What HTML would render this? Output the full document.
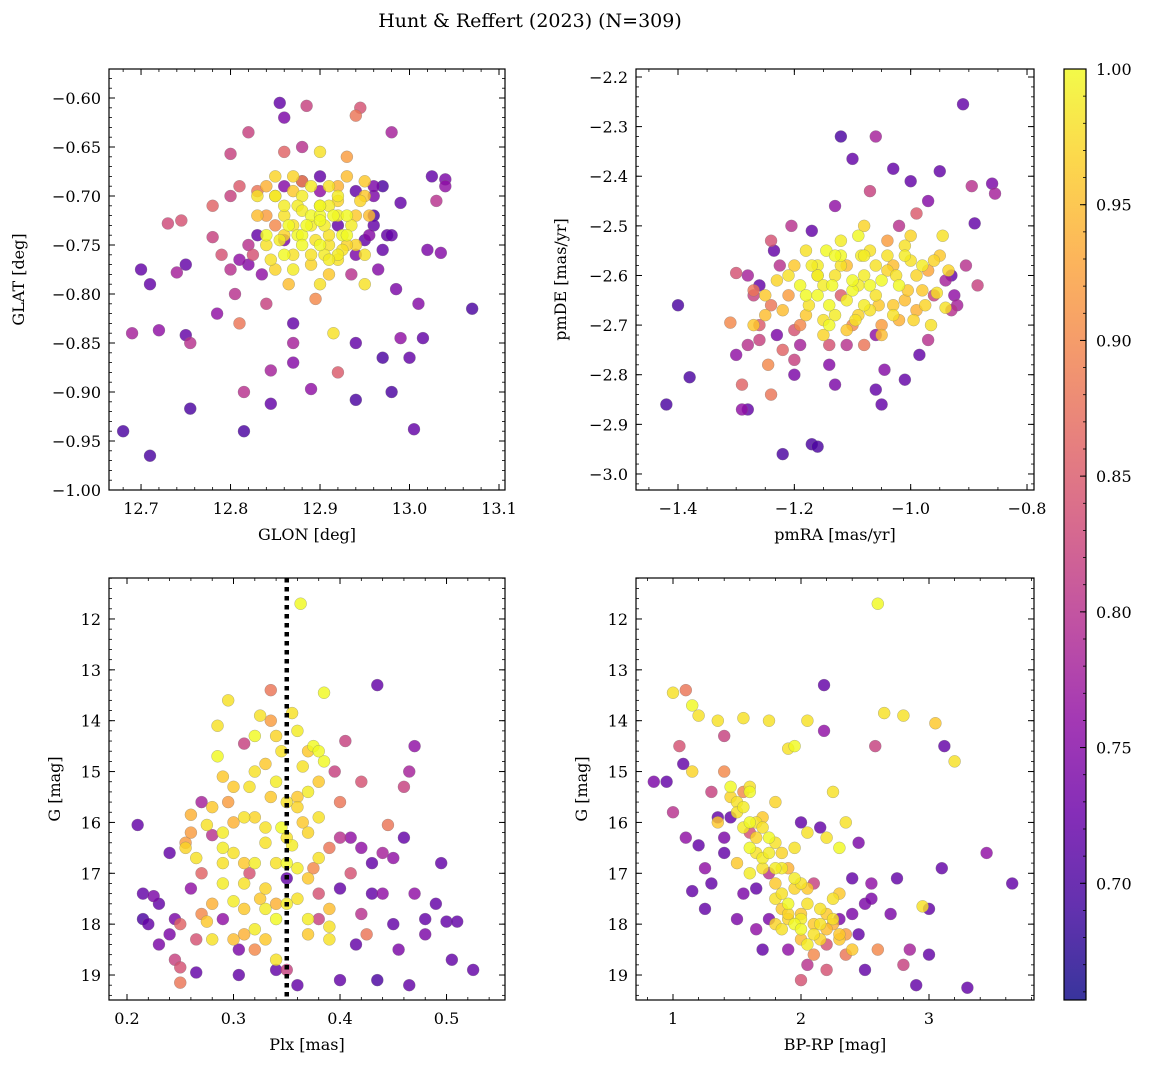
<!DOCTYPE html>
<html><head><meta charset="utf-8"><style>
html,body{margin:0;padding:0;background:#fff;}
svg{display:block;font-family:"DejaVu Serif","Liberation Serif",serif;}
</style></head><body>
<svg id="fig" width="1149" height="1068" viewBox="0 0 1149 1068" xmlns="http://www.w3.org/2000/svg">
<text x="530" y="27" text-anchor="middle" font-size="19">Hunt &amp; Reffert (2023) (N=309)</text>
</svg>
<script>
// ---- data ----
const p1x=[12.68,12.71,12.69,12.72,12.70,12.71,12.73,12.745,12.74,12.75,12.75,12.755,12.755,12.78,12.78,12.785,12.79,12.80,12.80,12.81,12.80,12.805,12.81,12.815,12.815,12.82,12.82,12.825,12.83,12.83,12.835,12.84,12.845,12.845,12.84,12.85,12.85,12.855,12.86,12.86,12.86,12.865,12.87,12.87,12.87,12.875,12.88,12.88,12.885,12.89,12.89,12.895,12.90,12.90,12.90,12.905,12.91,12.91,12.915,12.92,12.92,12.925,12.93,12.93,12.935,12.94,12.94,12.945,12.95,12.95,12.94,12.94,12.955,12.96,12.965,12.97,12.975,12.98,12.98,12.985,12.99,12.99,13.00,13.005,13.01,13.015,13.02,13.025,13.035,13.03,13.04,13.04,13.07,12.92,12.89,12.96,12.83,12.86,12.87,12.9,12.91,12.88,12.92,12.87,12.9];
const p1y=[-0.94,-0.965,-0.84,-0.837,-0.775,-0.79,-0.728,-0.725,-0.778,-0.77,-0.842,-0.85,-0.917,-0.742,-0.71,-0.82,-0.76,-0.657,-0.70,-0.69,-0.775,-0.80,-0.83,-0.90,-0.94,-0.77,-0.635,-0.76,-0.72,-0.70,-0.78,-0.81,-0.878,-0.912,-0.75,-0.73,-0.68,-0.605,-0.62,-0.71,-0.76,-0.79,-0.83,-0.85,-0.87,-0.74,-0.70,-0.65,-0.608,-0.72,-0.77,-0.805,-0.655,-0.68,-0.75,-0.73,-0.78,-0.71,-0.84,-0.76,-0.69,-0.74,-0.66,-0.72,-0.78,-0.618,-0.75,-0.61,-0.79,-0.70,-0.85,-0.908,-0.74,-0.72,-0.775,-0.865,-0.74,-0.90,-0.635,-0.795,-0.707,-0.845,-0.865,-0.938,-0.81,-0.845,-0.755,-0.68,-0.758,-0.705,-0.683,-0.69,-0.815,-0.88,-0.897,-0.73,-0.74,-0.69,-0.76,-0.72,-0.75,-0.74,-0.72,-0.73,-0.79];
const p1c=[.70,.70,.78,.76,.72,.72,.83,.84,.78,.72,.72,.80,.70,.82,.86,.76,.84,.82,.82,.85,.80,.80,.88,.80,.70,.75,.82,.84,.95,.98,.76,.82,.78,.72,.98,.90,.97,.72,.74,.99,1.0,.95,.72,.78,.75,1.0,.99,.80,.82,1.0,.97,.90,.98,.72,1.0,.99,.96,.99,.98,.99,.94,1.0,.92,1.0,.80,.88,.97,.84,.98,.96,.72,.70,.75,.70,.75,.70,.72,.70,.78,.74,.72,.76,.72,.72,.75,.72,.74,.72,.75,.80,.74,.76,.70,.85,.76,.72,.72,.75,.98,1.0,.98,1.0,.99,.98,.98];
const p1xb=[12.84,12.85,12.86,12.87,12.88,12.89,12.90,12.91,12.92,12.93,12.94,12.95,12.845,12.855,12.865,12.875,12.885,12.895,12.905,12.915,12.925,12.935,12.945,12.955,12.85,12.87,12.89,12.91,12.93,12.95,12.86,12.88,12.90,12.92,12.94,12.84,12.86,12.88,12.90,12.92,12.94,12.96,12.87,12.89,12.91,12.93,12.85,12.95,12.97,12.83,12.82,12.81,12.84,12.86,12.98,12.97,12.96,12.88,12.9,12.92];
const p1yb=[-0.74,-0.70,-0.72,-0.68,-0.75,-0.69,-0.71,-0.74,-0.70,-0.75,-0.72,-0.76,-0.765,-0.745,-0.73,-0.71,-0.73,-0.745,-0.76,-0.72,-0.755,-0.73,-0.705,-0.72,-0.70,-0.775,-0.76,-0.765,-0.74,-0.685,-0.745,-0.685,-0.695,-0.73,-0.76,-0.69,-0.74,-0.715,-0.725,-0.765,-0.695,-0.70,-0.695,-0.73,-0.69,-0.68,-0.775,-0.745,-0.69,-0.695,-0.75,-0.765,-0.72,-0.655,-0.74,-0.755,-0.69,-0.685,-0.71,-0.705];
const p1cb=[1,.99,.98,.97,1,.99,1,.98,.99,.97,.96,.98,.98,.99,1,.99,1,.98,.99,1,.98,.99,.97,.95,.96,.99,.98,.99,1,.96,.74,.72,.76,.72,.74,.94,.97,.99,1,.98,.72,.74,.96,.99,.98,.95,.97,.72,.70,.88,.80,.76,.92,.86,.72,.72,.74,.90,.98,.97];

const p2x=[-1.42,-1.40,-1.38,-1.30,-1.31,-1.30,-1.29,-1.29,-1.28,-1.28,-1.27,-1.27,-1.26,-1.26,-1.25,-1.245,-1.24,-1.24,-1.235,-1.225,-1.22,-1.22,-1.21,-1.205,-1.20,-1.20,-1.19,-1.18,-1.175,-1.17,-1.16,-1.16,-1.15,-1.145,-1.14,-1.135,-1.13,-1.12,-1.11,-1.11,-1.10,-1.10,-1.095,-1.09,-1.085,-1.08,-1.08,-1.07,-1.07,-1.06,-1.06,-1.055,-1.05,-1.045,-1.04,-1.03,-1.025,-1.02,-1.01,-1.01,-1.005,-1.00,-0.995,-0.99,-0.98,-0.975,-0.97,-0.965,-0.96,-0.955,-0.95,-0.945,-0.94,-0.935,-0.93,-0.925,-0.92,-0.91,-0.905,-0.895,-0.89,-0.885,-0.86,-0.855,-0.97,-1.05,-1.13,-1.06,-0.985,-1.19,-1.23,-1.2,-1.16,-1.12,-1.14,-1.08,-1.03,-1.12,-1.17,-1.13];
const p2y=[-2.86,-2.66,-2.805,-2.595,-2.695,-2.76,-2.82,-2.87,-2.87,-2.60,-2.70,-2.64,-2.70,-2.62,-2.64,-2.78,-2.84,-2.53,-2.55,-2.58,-2.67,-2.96,-2.60,-2.50,-2.71,-2.80,-2.62,-2.68,-2.66,-2.94,-2.945,-2.58,-2.72,-2.55,-2.78,-2.62,-2.68,-2.32,-2.58,-2.74,-2.365,-2.63,-2.69,-2.52,-2.56,-2.50,-2.74,-2.43,-2.62,-2.32,-2.58,-2.66,-2.72,-2.79,-2.53,-2.385,-2.60,-2.50,-2.56,-2.81,-2.63,-2.41,-2.69,-2.475,-2.58,-2.66,-2.45,-2.70,-2.57,-2.635,-2.39,-2.52,-2.665,-2.59,-2.60,-2.64,-2.66,-2.255,-2.58,-2.42,-2.495,-2.62,-2.415,-2.435,-2.73,-2.86,-2.82,-2.83,-2.76,-2.74,-2.72,-2.58,-2.60,-2.56,-2.70,-2.66,-2.68,-2.64,-2.51,-2.46];
const p2c=[.70,.70,.70,.84,.90,.76,.86,.76,.72,.78,.96,.82,.85,.72,.96,.90,.88,.84,.72,.80,.95,.70,.98,.80,.84,.74,1.0,.96,.98,.70,.70,.99,.97,1.0,.75,1.0,.99,.70,.95,.80,.72,1.0,.98,1.0,.99,.97,.88,.82,1.0,.78,.98,.96,.95,.75,.92,.72,.98,.80,.99,.72,.96,.72,.97,.85,.99,.97,.75,.98,.97,.98,.72,.98,.98,.97,.72,.76,.78,.72,.80,.80,.72,.82,.74,.78,.80,.72,.74,.72,.72,.78,.74,.96,.99,1.0,1.0,.99,.98,.85,.72,.76];
const p2xb=[-1.18,-1.16,-1.14,-1.12,-1.10,-1.08,-1.06,-1.04,-1.02,-1.00,-0.98,-1.17,-1.15,-1.13,-1.11,-1.09,-1.07,-1.05,-1.03,-1.01,-0.99,-1.19,-1.15,-1.11,-1.07,-1.03,-0.99,-0.97,-1.21,-1.25,-1.27,-1.23,-1.26,-1.22,-1.14,-1.10,-1.06,-1.02,-0.96,-0.94,-1.18,-1.12,-1.08,-1.04,-1.00,-1.28,-1.24,-1.20,-0.93,-0.95,-1.16,-1.09,-1.01,-1.13,-1.05];
const p2yb=[-2.64,-2.60,-2.66,-2.58,-2.61,-2.56,-2.64,-2.59,-2.62,-2.57,-2.63,-2.58,-2.69,-2.56,-2.65,-2.68,-2.55,-2.61,-2.66,-2.54,-2.60,-2.70,-2.62,-2.71,-2.67,-2.58,-2.67,-2.59,-2.64,-2.68,-2.63,-2.61,-2.73,-2.75,-2.74,-2.70,-2.72,-2.69,-2.64,-2.61,-2.55,-2.53,-2.60,-2.56,-2.52,-2.74,-2.66,-2.77,-2.67,-2.56,-2.64,-2.62,-2.65,-2.60,-2.70];
const p2cb=[1,.99,1,.98,1,.99,.98,.97,1,.98,.96,.99,.98,1,.99,.97,.98,1,.96,.98,.97,.90,.99,.96,.98,.95,.94,.93,.92,.95,.88,.97,.82,.86,.84,.90,.76,.94,.82,.78,.98,.99,.99,.98,.97,.80,.88,.82,.80,.96,1,.99,.95,.98,.92];

const p3x=[0.21,0.215,0.215,0.225,0.23,0.24,0.245,0.245,0.25,0.25,0.255,0.255,0.26,0.26,0.265,0.265,0.265,0.27,0.27,0.275,0.275,0.28,0.28,0.285,0.285,0.29,0.29,0.29,0.295,0.295,0.3,0.3,0.305,0.305,0.31,0.31,0.315,0.315,0.32,0.32,0.32,0.325,0.325,0.33,0.33,0.335,0.335,0.335,0.34,0.34,0.345,0.345,0.35,0.35,0.35,0.355,0.355,0.36,0.36,0.363,0.365,0.365,0.37,0.37,0.375,0.375,0.38,0.38,0.385,0.385,0.39,0.39,0.395,0.4,0.4,0.405,0.41,0.415,0.42,0.425,0.43,0.435,0.435,0.44,0.445,0.45,0.455,0.46,0.465,0.465,0.47,0.48,0.48,0.49,0.495,0.5,0.505,0.51,0.525,0.45,0.42,0.31,0.33,0.37,0.28,0.34];
const p3y=[16.05,17.4,17.9,17.45,17.6,16.6,17.9,18.7,18.85,19.15,16.4,16.5,15.85,17.3,16.7,18.3,18.95,15.6,17.0,16.05,17.95,18.3,16.25,14.1,14.7,15.1,16.5,17.9,13.6,15.6,16.0,17.55,18.5,19.0,14.45,16.8,15.3,17.0,14.3,15.9,18.1,13.9,17.5,16.4,14.85,13.4,14.0,15.5,18.7,17.6,14.6,16.1,15.6,17.1,18.9,13.85,16.45,19.2,17.5,11.7,14.9,16.0,15.4,18.2,14.5,16.9,15.2,17.4,13.45,14.8,16.5,18.05,15.0,19.1,17.3,14.4,16.3,18.4,17.8,18.2,16.8,13.3,19.1,17.4,16.05,18.0,18.5,15.3,15.0,19.2,14.5,17.9,18.2,17.6,16.8,17.95,18.7,17.95,18.9,16.7,15.2,17.2,18.3,17.9,17.6,16.8];
const p3c=[.72,.72,.70,.74,.72,.72,.74,.82,.84,.88,.92,.97,.94,.76,.98,.84,.72,.78,.86,.98,.96,.98,.80,.98,1.0,.96,.99,.76,.98,.92,.94,.99,.74,.72,.82,.96,.98,.84,1.0,.97,.99,.98,.96,.98,.96,.88,.92,.96,.98,.94,.98,1.0,.98,.72,.82,.98,.99,.72,.98,1.0,.98,.96,.99,.96,1.0,.90,.96,.84,1.0,1.0,.88,.98,.82,.72,.72,.82,.76,.72,.80,.88,.72,.72,.70,.76,.88,.72,.74,.82,.78,.72,.76,.72,.74,.72,.72,.72,.72,.72,.72,.76,.84,.98,.96,.99,.94,.98];
const p3xb=[0.29,0.30,0.31,0.32,0.33,0.34,0.35,0.36,0.37,0.38,0.39,0.30,0.32,0.34,0.36,0.38,0.31,0.33,0.35,0.37,0.39,0.27,0.28,0.29,0.30,0.33,0.35,0.36,0.38,0.40,0.41,0.42,0.43,0.44,0.26,0.25,0.24,0.31,0.34,0.36,0.38,0.32,0.34,0.29,0.37,0.40,0.22,0.23,0.46,0.47];
const p3yb=[17.2,16.6,17.7,16.8,17.3,17.9,16.3,16.9,16.2,16.7,17.7,15.3,15.0,15.2,15.7,15.9,18.2,17.7,16.8,17.1,18.3,17.8,15.7,16.2,18.3,16.1,17.6,15.5,14.6,15.6,17.0,16.5,17.4,16.6,16.2,18.0,18.2,15.9,14.3,14.2,17.9,18.5,18.9,16.8,14.6,16.3,18.0,18.4,16.3,17.4];
const p3cb=[.99,.98,.96,.99,.97,1,.98,.99,.97,.98,.95,.96,.98,.99,.97,.98,.94,.99,1,.96,.98,.90,.96,.99,.95,.98,.99,.96,1,.88,.84,.76,.72,.78,.92,.86,.74,.98,.97,.99,.82,.90,.72,.98,.96,.80,.72,.74,.72,.76];

const p4x=[0.85,0.95,1.0,1.05,1.08,1.1,1.15,1.0,1.1,1.15,1.2,1.15,1.2,1.25,1.3,1.35,1.35,1.4,1.4,1.45,1.5,1.5,1.55,1.55,1.6,1.6,1.65,1.65,1.7,1.7,1.75,1.75,1.8,1.8,1.85,1.85,1.9,1.9,1.95,1.95,2.0,2.0,2.0,2.05,2.05,2.1,2.15,2.15,2.18,2.18,2.2,2.25,2.25,2.3,2.3,2.35,2.4,2.4,2.45,2.5,2.5,2.55,2.58,2.6,2.6,2.65,2.7,2.75,2.8,2.8,2.85,2.9,2.95,3.0,3.0,3.05,3.1,3.12,3.2,3.3,3.45,3.65,1.7,1.8,1.9,2.0,2.1,1.6,1.5,1.45,1.85,2.2,1.95,1.4,1.55,1.65,2.05,2.3];
const p4y=[15.2,15.2,15.8,14.5,14.85,16.3,17.35,13.45,13.4,13.7,13.9,15.0,16.45,17.7,15.4,14.0,16.0,14.3,15.0,15.9,16.8,17.9,13.95,15.4,16.2,15.3,16.6,17.3,15.9,18.5,17.0,14.0,15.6,16.4,18.1,17.7,14.55,16.9,18.0,14.5,19.1,17.8,16.0,14.0,18.4,17.2,18.0,16.1,13.3,14.2,18.9,15.4,17.5,18.3,16.5,16.0,18.5,17.1,16.4,17.6,18.9,17.2,14.5,11.7,18.5,13.85,17.8,17.1,13.9,18.8,18.5,19.2,17.65,17.7,18.6,14.05,16.9,14.5,14.8,19.25,16.6,17.2,16.7,17.5,17.9,18.1,18.2,16.0,15.6,15.3,16.9,17.8,16.5,16.6,17.4,18.1,16.2,17.9];
const p4c=[.74,.72,.80,.84,.72,.76,.72,.98,.88,1.0,.98,.97,.72,.72,.82,.98,.96,.82,.90,.72,.96,.74,.98,.90,.84,.98,.98,.72,.96,.72,.80,.98,.97,.98,.98,.96,.98,.94,1.0,1.0,.84,.96,.72,.98,.99,.82,.98,.72,.72,.76,.84,.98,.98,.96,1.0,.98,.96,.72,.74,.74,.72,.76,.82,1.0,.90,.98,.74,.72,.98,.82,.78,.72,.98,.72,.72,.96,.72,.72,.98,.72,.76,.72,.99,.98,.97,1.0,.98,1.0,.98,1.0,.99,.96,.98,.72,.74,.76,.98,.74];
const p4xb=[1.5,1.55,1.6,1.65,1.7,1.75,1.8,1.85,1.9,1.95,2.0,2.05,2.1,2.15,2.2,2.25,2.3,1.45,1.55,1.65,1.75,1.85,1.95,2.05,2.15,2.25,2.35,1.6,1.7,1.8,1.9,2.0,2.1,2.2,2.3,2.4,1.35,1.4,1.3,1.25,1.75,1.9,2.05,2.45,2.55,2.35,1.6,1.8,2.0,2.2];
const p4yb=[15.8,16.1,16.5,16.3,16.9,16.6,17.2,17.4,17.6,17.3,17.9,17.6,18.0,18.3,18.1,17.9,18.2,15.5,15.7,16.0,16.3,16.6,17.1,17.3,17.7,18.0,18.2,15.4,16.1,16.9,17.8,18.3,18.6,18.4,17.4,17.8,15.9,16.3,17.2,16.9,17.9,18.5,18.8,18.2,17.5,18.6,17.0,18.0,17.2,16.3];
const p4cb=[.98,.99,1,.97,.98,.99,.96,.98,1,.97,.99,.98,.96,.97,.95,.98,.96,.97,.99,.98,1,.97,.99,.96,.98,.94,.92,1,.98,.99,.97,.95,.90,.84,.96,.74,.72,.74,.72,.76,.74,.76,.80,.72,.74,.88,.99,.97,.98,.98];

const t1x=[12.7,12.8,12.9,13.0,13.1], t1xl=["12.7","12.8","12.9","13.0","13.1"];
const t1y=[-0.60,-0.65,-0.70,-0.75,-0.80,-0.85,-0.90,-0.95,-1.00], t1yl=["−0.60","−0.65","−0.70","−0.75","−0.80","−0.85","−0.90","−0.95","−1.00"];
const t2x=[-1.4,-1.2,-1.0,-0.8], t2xl=["−1.4","−1.2","−1.0","−0.8"];
const t2y=[-2.2,-2.3,-2.4,-2.5,-2.6,-2.7,-2.8,-2.9,-3.0], t2yl=["−2.2","−2.3","−2.4","−2.5","−2.6","−2.7","−2.8","−2.9","−3.0"];
const t3x=[0.2,0.3,0.4,0.5], t3xl=["0.2","0.3","0.4","0.5"];
const tGy=[12,13,14,15,16,17,18,19], tGyl=["12","13","14","15","16","17","18","19"];
const t4x=[1,2,3], t4xl=["1","2","3"];
const tCb=[0.70,0.75,0.80,0.85,0.90,0.95,1.00], tCbl=["0.70","0.75","0.80","0.85","0.90","0.95","1.00"];
const plxCut=[0.35];

// ---- rendering ----
const NS="http://www.w3.org/2000/svg";
const svg=document.getElementById('fig');
function mk(tag,attrs,parent){const e=document.createElementNS(NS,tag);for(const k in attrs)e.setAttribute(k,attrs[k]);(parent||svg).appendChild(e);return e;}
const VMIN=0.657,VMAX=1.0;
const stops=["#0d0887","#41049d","#6a00a8","#8f0da4","#b12a90","#cc4778","#e16462","#f2844b","#fca636","#fcce25","#f0f921"];
function hx(h){return [parseInt(h.substr(1,2),16),parseInt(h.substr(3,2),16),parseInt(h.substr(5,2),16)];}
function cmap(v){let t=(v-VMIN)/(VMAX-VMIN);t=Math.max(0,Math.min(1,t));const f=t*10,i=Math.min(9,Math.floor(f)),r=f-i;const a=hx(stops[i]),b=hx(stops[i+1]);return `rgb(${a.map((c,k)=>Math.round(c+(b[k]-c)*r)).join(',')})`;}

function panel(o){
  const g=mk('g',{});
  
  
  const sx=v=>o.x0+(v-o.xmin)/(o.xmax-o.xmin)*(o.x1-o.x0);
  const sy=v=>o.y1-(v-o.ymin)/(o.ymax-o.ymin)*(o.y1-o.y0);
  const pts=mk('g',{},g);
  
  
  const idx=o.xs.map((_,i)=>i).sort((a,b)=>o.cs[a]-o.cs[b]);
  idx.forEach(i=>{
    const c=mk('circle',{cx:sx(o.xs[i]),cy:sy(o.ys[i]),r:6,fill:cmap(o.cs[i]),'fill-opacity':0.82,stroke:'#777','stroke-width':0.4,'stroke-opacity':0.7},pts);
    
    
  });
  if(o.vline){o.vline.forEach(v=>{const l=mk('line',{x1:sx(v),x2:sx(v),y1:o.y0,y2:o.y1,stroke:'#000','stroke-width':4.5,'stroke-dasharray':'4.5,4.5'},g);
    
    });}
  const fr=mk('rect',{x:o.x0,y:o.y0,width:o.x1-o.x0,height:o.y1-o.y0,fill:'none',stroke:'#000','stroke-width':1.2},g);
  
  
  const lo=Math.min(o.xmin,o.xmax),hi=Math.max(o.xmin,o.xmax);
  for(let v=Math.ceil(lo/o.xminor-1e-6)*o.xminor;v<=hi+1e-9;v+=o.xminor){const X=sx(v);mk('line',{x1:X,x2:X,y1:o.y1,y2:o.y1-3,stroke:'#000','stroke-width':0.8},g);mk('line',{x1:X,x2:X,y1:o.y0,y2:o.y0+3,stroke:'#000','stroke-width':0.8},g);}
  const ylo=Math.min(o.ymin,o.ymax),yhi=Math.max(o.ymin,o.ymax);
  for(let v=Math.ceil(ylo/o.yminor-1e-6)*o.yminor;v<=yhi+1e-9;v+=o.yminor){const Y=sy(v);mk('line',{x1:o.x0,x2:o.x0+3,y1:Y,y2:Y,stroke:'#000','stroke-width':0.8},g);mk('line',{x1:o.x1,x2:o.x1-3,y1:Y,y2:Y,stroke:'#000','stroke-width':0.8},g);}
  o.tx.forEach((v,i)=>{const X=sx(v);mk('line',{x1:X,x2:X,y1:o.y1,y2:o.y1-6,stroke:'#000','stroke-width':1},g);mk('line',{x1:X,x2:X,y1:o.y0,y2:o.y0+6,stroke:'#000','stroke-width':1},g);
    const t=mk('text',{x:X,y:o.y1+24,'text-anchor':'middle','font-size':16},g);t.textContent=o.txl[i];
    
    });
  o.ty.forEach((v,i)=>{const Y=sy(v);mk('line',{x1:o.x0,x2:o.x0+6,y1:Y,y2:Y,stroke:'#000','stroke-width':1},g);mk('line',{x1:o.x1,x2:o.x1-6,y1:Y,y2:Y,stroke:'#000','stroke-width':1},g);
    const t=mk('text',{x:o.x0-8,y:Y+6,'text-anchor':'end','font-size':16},g);t.textContent=o.tyl[i];
    
    });
  const xl=mk('text',{x:(o.x0+o.x1)/2,y:o.y1+50,'text-anchor':'middle','font-size':16},g);xl.textContent=o.xlab;
  
  
  const yx=o.ylx, yy=(o.y0+o.y1)/2;
  const yl=mk('text',{x:yx,y:yy,'text-anchor':'middle','font-size':16,transform:`rotate(-90 ${yx} ${yy})`},g);yl.textContent=o.ylab;
  
  
}

panel({name:'glon-glat-panel',x0:109,x1:505,y0:69,y1:490,xmin:12.6642,xmax:13.1067,ymin:-1.0,ymax:-0.5704,xs:p1x.concat(p1xb),ys:p1y.concat(p1yb),cs:p1c.concat(p1cb),tx:t1x,txl:t1xl,ty:t1y,tyl:t1yl,xminor:0.02,yminor:0.01,xlab:'GLON [deg]',ylab:'GLAT [deg]',ylx:24});
panel({name:'proper-motion-panel',x0:636,x1:1034,y0:69,y1:490,xmin:-1.4722,xmax:-0.788,ymin:-3.0323,ymax:-2.1839,xs:p2x.concat(p2xb),ys:p2y.concat(p2yb),cs:p2c.concat(p2cb),tx:t2x,txl:t2xl,ty:t2y,tyl:t2yl,xminor:0.05,yminor:0.02,xlab:'pmRA [mas/yr]',ylab:'pmDE [mas/yr]',ylx:566});
panel({name:'parallax-magnitude-panel',x0:109,x1:505,y0:578,y1:1000,xmin:0.1831,xmax:0.5549,ymin:19.4912,ymax:11.1945,xs:p3x.concat(p3xb),ys:p3y.concat(p3yb),cs:p3c.concat(p3cb),tx:t3x,txl:t3xl,ty:tGy,tyl:tGyl,xminor:0.02,yminor:0.2,xlab:'Plx [mas]',ylab:'G [mag]',ylx:60,vline:plxCut});
panel({name:'color-magnitude-panel',x0:636,x1:1034,y0:578,y1:1000,xmin:0.7109,xmax:3.8203,ymin:19.4912,ymax:11.1945,xs:p4x.concat(p4xb),ys:p4y.concat(p4yb),cs:p4c.concat(p4cb),tx:t4x,txl:t4xl,ty:tGy,tyl:tGyl,xminor:0.2,yminor:0.2,xlab:'BP-RP [mag]',ylab:'G [mag]',ylx:587});

(function(){
  const x0=1064,x1=1086,y0=69,y1=1000;
  const g=mk('g',{});
  
  
  const defs=mk('defs',{},g);
  const lg=mk('linearGradient',{id:'cbg',x1:0,y1:1,x2:0,y2:0},defs);
  stops.forEach((s,i)=>mk('stop',{offset:i/10,'stop-color':s},lg));
  mk('rect',{x:x0,y:y0,width:x1-x0,height:y1-y0,fill:'url(#cbg)','fill-opacity':0.82},g);
  mk('rect',{x:x0,y:y0,width:x1-x0,height:y1-y0,fill:'none',stroke:'#000','stroke-width':1.2},g);
  const sy=v=>y1-(v-VMIN)/(VMAX-VMIN)*(y1-y0);
  for(let v=0.66;v<=1.0001;v+=0.01){mk('line',{x1:x1,x2:x1-3,y1:sy(v),y2:sy(v),stroke:'#000','stroke-width':0.8},g);}
  tCb.forEach((v,i)=>{const Y=sy(v);mk('line',{x1:x1,x2:x1-6,y1:Y,y2:Y,stroke:'#000','stroke-width':1},g);
    const t=mk('text',{x:x1+10,y:Y+6,'font-size':16},g);t.textContent=tCbl[i];
    
    });
})();
</script>
</body></html>
